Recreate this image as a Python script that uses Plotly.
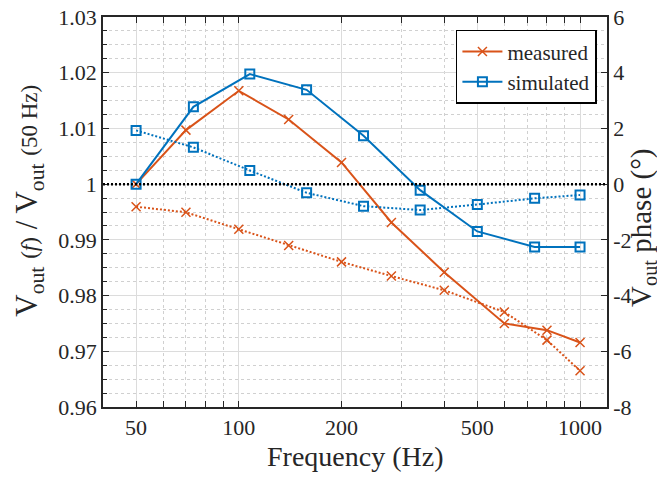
import plotly.graph_objects as go

# ---- data ----
freq_meas = [50, 70, 100, 140, 200, 280, 400, 600, 800, 1000]
mag_meas = [1.0, 1.0097, 1.01675, 1.01161, 1.0039, 0.99312, 0.9842, 0.9750, 0.97379, 0.97158]
phase_meas = [-0.81, -1.01, -1.62, -2.20, -2.79, -3.30, -3.81, -4.59, -5.60, -6.70]

freq_sim = [50, 73.6, 107.7, 158, 232, 340, 500, 736, 1000]
mag_sim = [1.0, 1.01388, 1.01975, 1.01693, 1.00867, 0.99892, 0.99151, 0.98874, 0.98874]
phase_sim = [1.93, 1.32, 0.49, -0.31, -0.79, -0.93, -0.73, -0.51, -0.39]

x_ticks = [50, 100, 200, 500, 1000]
x_minor = [40, 60, 70, 80, 90, 300, 400, 600, 700, 800, 900]
y_ticks = [0.96, 0.97, 0.98, 0.99, 1.0, 1.01, 1.02, 1.03]
y_ticklabels = ["0.96", "0.97", "0.98", "0.99", "1", "1.01", "1.02", "1.03"]
y2_ticks = [-8, -6, -4, -2, 0, 2, 4, 6]

x_title = "Frequency (Hz)"
y_title = ("V<sub>out</sub> <span style='font-size:23px'>(<i>f</i>)</span> / "
           "V<sub>out</sub> <span style='font-size:23px'>(50 Hz)</span>")
y2_title = "V<sub>out</sub> phase (°)"

ORANGE = "#D95319"
BLUE = "#0072BD"
FONT = "Liberation Serif"
INK = "#262626"

fig = go.Figure()

# reference line at unity / zero phase
fig.add_hline(y=1.0, line=dict(color="black", width=2.5, dash="2px,2px"), layer="above")

fig.add_trace(go.Scatter(
    x=freq_meas, y=phase_meas, yaxis="y2", mode="lines+markers",
    line=dict(color=ORANGE, width=2, dash="2px,2px"),
    marker=dict(symbol="x-thin-open", size=9, line=dict(color=ORANGE, width=1.5)),
    showlegend=False))
fig.add_trace(go.Scatter(
    x=freq_sim, y=phase_sim, yaxis="y2", mode="lines+markers",
    line=dict(color=BLUE, width=2, dash="2px,2px"),
    marker=dict(symbol="square-open", size=9, line=dict(color=BLUE, width=2)),
    showlegend=False))
fig.add_trace(go.Scatter(
    x=freq_meas, y=mag_meas, mode="lines+markers", name="measured",
    line=dict(color=ORANGE, width=2),
    marker=dict(symbol="x-thin-open", size=9, line=dict(color=ORANGE, width=1.5))))
fig.add_trace(go.Scatter(
    x=freq_sim, y=mag_sim, mode="lines+markers", name="simulated",
    line=dict(color=BLUE, width=2),
    marker=dict(symbol="square-open", size=9, line=dict(color=BLUE, width=2))))

# axis titles as annotations for exact placement
fig.add_annotation(text=x_title, xref="paper", yref="paper", x=0.5, y=-0.128,
                   showarrow=False, font=dict(size=28, color=INK), xanchor="center", yanchor="middle")
fig.add_annotation(text=y_title, xref="paper", yref="paper", x=-0.146, y=0.53,
                   showarrow=False, textangle=-90, font=dict(size=31, color=INK),
                   xanchor="center", yanchor="middle")
fig.add_annotation(text=y2_title, xref="paper", yref="paper", x=1.07, y=0.46,
                   showarrow=False, textangle=-90, font=dict(size=29, color=INK),
                   xanchor="center", yanchor="middle")

fig.update_layout(
    # the page body has an 8px default margin, so the figure is drawn 8px smaller
    width=657, height=469,
    margin=dict(l=95, r=58, t=9, b=70, autoexpand=False),
    paper_bgcolor="white", plot_bgcolor="white",
    font=dict(family=FONT, size=22, color=INK),
    xaxis=dict(
        type="log", range=[1.602, 3.079], automargin=False,
        tickvals=x_ticks, ticktext=[str(v) for v in x_ticks],
        ticks="inside", ticklen=6, tickcolor=INK, ticklabeloverflow="allow",
        showline=True, linecolor=INK, linewidth=1.5, mirror="allticks",
        showgrid=True, gridcolor="#dcdcdc", gridwidth=1,
        minor=dict(tickvals=x_minor, ticks="inside", ticklen=3, tickcolor=INK,
                   showgrid=True, gridcolor="#d0d0d0", griddash="dot", gridwidth=1),
        zeroline=False,
    ),
    yaxis=dict(
        range=[0.96, 1.03], automargin=False,
        tickvals=y_ticks, ticktext=y_ticklabels,
        ticks="inside", ticklen=6, tickcolor=INK, ticklabeloverflow="allow",
        showline=True, linecolor=INK, linewidth=1.5,
        showgrid=True, gridcolor="#dcdcdc", gridwidth=1,
        minor=dict(dtick=0.0025, tick0=0.96, ticks="inside", ticklen=4, tickcolor=INK,
                   showgrid=True, gridcolor="#d0d0d0", griddash="dot", gridwidth=1),
        zeroline=False,
    ),
    yaxis2=dict(
        overlaying="y", side="right", range=[-8, 6], automargin=False,
        tickvals=y2_ticks, ticktext=[str(v) for v in y2_ticks],
        ticks="inside", ticklen=6, tickcolor=INK, ticklabeloverflow="allow",
        showline=True, linecolor=INK, linewidth=1.5,
        showgrid=False, zeroline=False,
    ),
    legend=dict(
        x=0.98, y=0.967, xanchor="right", yanchor="top",
        bgcolor="white", bordercolor="black", borderwidth=1.5,
        font=dict(size=21, color=INK),
        tracegroupgap=0, itemwidth=40,
    ),
)

fig.write_html("out.html")
